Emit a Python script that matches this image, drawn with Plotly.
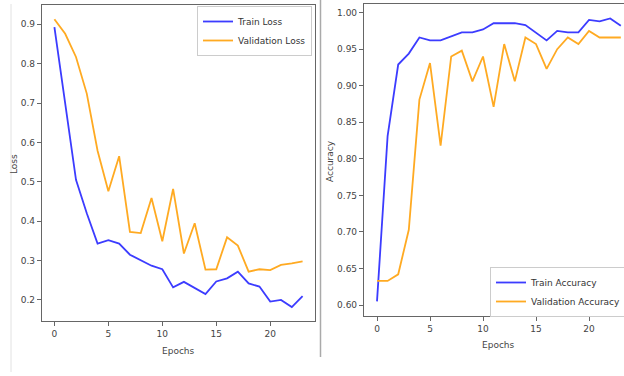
import plotly.graph_objects as go

epochs = list(range(24))
train_loss = [0.893, 0.700, 0.505, 0.420, 0.343, 0.352, 0.343, 0.315, 0.301, 0.287,
              0.278, 0.232, 0.246, 0.230, 0.215, 0.247, 0.255, 0.272, 0.242, 0.234,
              0.196, 0.200, 0.182, 0.210]
val_loss = [0.913, 0.876, 0.817, 0.724, 0.579, 0.476, 0.565, 0.373, 0.370, 0.459,
            0.349, 0.482, 0.318, 0.395, 0.277, 0.278, 0.359, 0.338, 0.272, 0.278,
            0.276, 0.289, 0.293, 0.298]
train_acc = [0.605, 0.831, 0.929, 0.944, 0.966, 0.962, 0.962, 0.968, 0.973, 0.973,
             0.977, 0.9855, 0.9855, 0.9855, 0.983, 0.973, 0.962, 0.975, 0.973, 0.973,
             0.990, 0.988, 0.992, 0.982]
val_acc = [0.633, 0.633, 0.642, 0.703, 0.881, 0.931, 0.818, 0.940, 0.948, 0.906,
           0.940, 0.871, 0.957, 0.906, 0.966, 0.957, 0.923, 0.950, 0.966, 0.957,
           0.975, 0.966, 0.966, 0.966]

loss_ticks = [0.2, 0.3, 0.4, 0.5, 0.6, 0.7, 0.8, 0.9]
acc_ticks = [0.60, 0.65, 0.70, 0.75, 0.80, 0.85, 0.90, 0.95, 1.00]
epoch_ticks = [0, 5, 10, 15, 20]

BLUE = "#3c3cff"
ORANGE = "#ffaa22"
SPINE = "#666666"
FONT = "DejaVu Sans"
TXT = "#444444"
W, H = 624, 376

fig = go.Figure()
fig.add_trace(go.Scatter(x=epochs, y=train_loss, mode="lines", name="Train Loss",
                         line=dict(color=BLUE, width=1.8), xaxis="x", yaxis="y", legend="legend"))
fig.add_trace(go.Scatter(x=epochs, y=val_loss, mode="lines", name="Validation Loss",
                         line=dict(color=ORANGE, width=1.8), xaxis="x", yaxis="y", legend="legend"))
fig.add_trace(go.Scatter(x=epochs, y=train_acc, mode="lines", name="Train Accuracy",
                         line=dict(color=BLUE, width=1.8), xaxis="x2", yaxis="y2", legend="legend2"))
fig.add_trace(go.Scatter(x=epochs, y=val_acc, mode="lines", name="Validation Accuracy",
                         line=dict(color=ORANGE, width=1.8), xaxis="x2", yaxis="y2", legend="legend2"))

axis_common = dict(showgrid=False, zeroline=False, showline=True, linecolor=SPINE, linewidth=1.2,
                   ticks="outside", ticklen=4, tickcolor=SPINE, tickwidth=1, automargin=False,
                   tickfont=dict(family=FONT, size=9, color=TXT))

fig.update_layout(
    width=W, height=H, autosize=False,
    margin=dict(l=0, r=0, t=0, b=0, autoexpand=False),
    paper_bgcolor="white", plot_bgcolor="white",
    font=dict(family=FONT, size=9, color=TXT),
    xaxis=dict(domain=[42 / W, 315 / W], range=[-1.15, 24.15], tickvals=epoch_ticks,
               anchor="y", mirror=True, **axis_common),
    yaxis=dict(domain=[1 - 321 / H, 1 - 5 / H], range=[0.1466, 0.949], tickvals=loss_ticks,
               tickformat=".1f", anchor="x", mirror=True, **axis_common),
    xaxis2=dict(domain=[364 / W, 1.0], range=[-1.226, 23.3], tickvals=epoch_ticks,
                anchor="y2", mirror=True, **axis_common),
    yaxis2=dict(domain=[1 - 316 / H, 1 - 4 / H], range=[0.585, 1.0118], tickvals=acc_ticks,
                tickformat=".2f", anchor="x2", mirror=False, **axis_common),
    legend=dict(x=312 / W, y=1 - 6 / H, xanchor="right", yanchor="top",
                bgcolor="rgba(255,255,255,0.9)", bordercolor="#cccccc", borderwidth=1,
                font=dict(family=FONT, size=9, color="#333333"), itemwidth=30,
                tracegroupgap=0),
    legend2=dict(x=490 / W, y=1 - 267 / H, xanchor="left", yanchor="top",
                 bgcolor="rgba(255,255,255,0.9)", bordercolor="#cccccc", borderwidth=1,
                 font=dict(family=FONT, size=9, color="#333333"), itemwidth=30,
                 tracegroupgap=0),
    showlegend=True,
)

# axis titles
ann_common = dict(xref="paper", yref="paper", showarrow=False, xanchor="center", yanchor="middle",
                  font=dict(family=FONT, size=9, color=TXT))
fig.add_annotation(text="Loss", x=14 / W, y=1 - 164 / H, textangle=-90, **ann_common)
fig.add_annotation(text="Epochs", x=178 / W, y=1 - 351 / H, **ann_common)
fig.add_annotation(text="Accuracy", x=330 / W, y=1 - 161 / H, textangle=-90, **ann_common)
fig.add_annotation(text="Epochs", x=498 / W, y=1 - 345 / H, **ann_common)

# screenshot separators
fig.add_shape(type="line", xref="paper", yref="paper", x0=320.5 / W, x1=320.5 / W,
              y0=1 - 357 / H, y1=1.0, line=dict(color="#aaaaaa", width=1.5))
fig.add_shape(type="line", xref="paper", yref="paper", x0=11 / W, x1=11 / W,
              y0=1 - 372 / H, y1=1 - 4 / H, line=dict(color="#e2e2e2", width=1))

fig.write_html("out.html", config={"displayModeBar": False},
               post_script="document.body.style.margin='0';document.body.style.overflow='hidden';")
